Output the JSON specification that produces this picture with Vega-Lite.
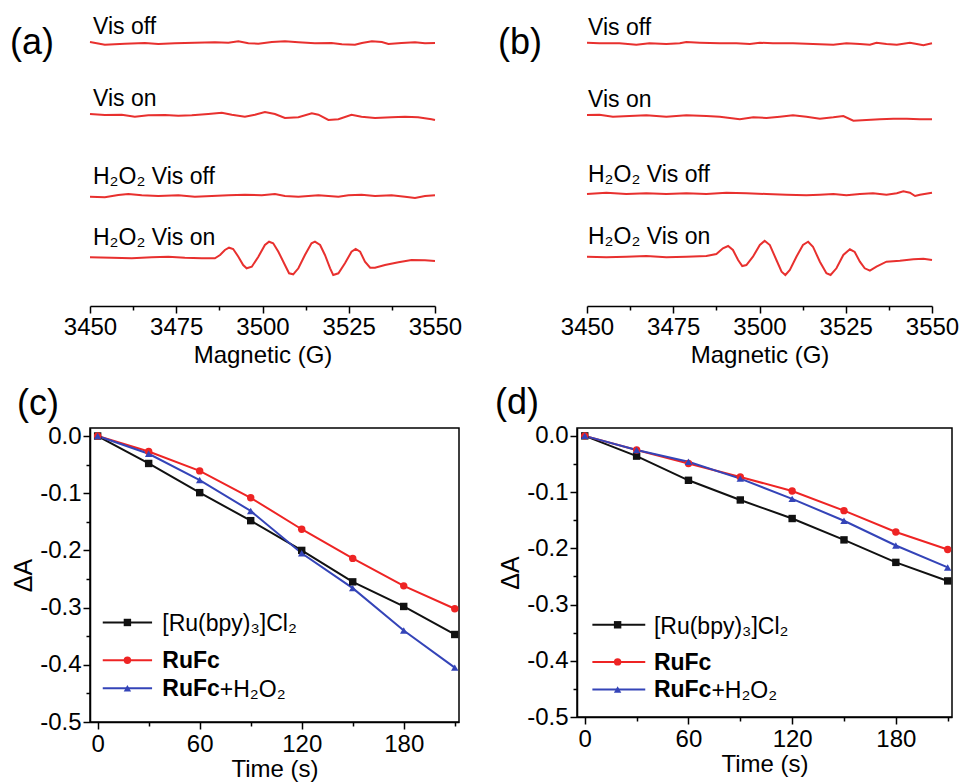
{
  "$schema": "https://vega.github.io/schema/vega-lite/v6.json",
  "autosize": {"type": "none"},
  "padding": {"left": 90, "top": 32, "right": 869, "bottom": 751},
  "background": "white",
  "config": {
    "font": "Liberation Sans",
    "view": {"stroke": null},
    "axis": {"grid": false, "labelFlush": false, "domainColor": "#000", "domainWidth": 1.5, "tickColor": "#000", "tickWidth": 1.5, "labelColor": "#000", "titleColor": "#000", "labelFont": "Liberation Sans", "titleFont": "Liberation Sans", "labelFontSize": 24, "titleFontSize": 24, "titleFontWeight": "normal"},
    "title": {"font": "Liberation Sans", "fontSize": 36, "fontWeight": "normal", "color": "#000", "anchor": "start", "frame": "group"},
    "text": {"font": "Liberation Sans", "color": "#000"}
  },
  "datasets": {
    "esr_a": [
      {"trace": "Vis off", "G": 3450, "v": 266}, {"trace": "Vis off", "G": 3454.3, "v": 263.3}, {"trace": "Vis off", "G": 3460.1, "v": 264.3}, {"trace": "Vis off", "G": 3465.9, "v": 265}, {"trace": "Vis off", "G": 3469.8, "v": 264}, {"trace": "Vis off", "G": 3474.6, "v": 264.7}, {"trace": "Vis off", "G": 3480.4, "v": 265.3}, {"trace": "Vis off", "G": 3486.2, "v": 265.7}, {"trace": "Vis off", "G": 3490.1, "v": 265.3}, {"trace": "Vis off", "G": 3493, "v": 266.7}, {"trace": "Vis off", "G": 3495.9, "v": 264.7}, {"trace": "Vis off", "G": 3498.8, "v": 264.3}, {"trace": "Vis off", "G": 3502.7, "v": 266}, {"trace": "Vis off", "G": 3506.5, "v": 266.7}, {"trace": "Vis off", "G": 3510.4, "v": 265.7}, {"trace": "Vis off", "G": 3515.2, "v": 264.7}, {"trace": "Vis off", "G": 3520, "v": 265}, {"trace": "Vis off", "G": 3523, "v": 263.7}, {"trace": "Vis off", "G": 3526.8, "v": 263.3}, {"trace": "Vis off", "G": 3528.8, "v": 265}, {"trace": "Vis off", "G": 3531.7, "v": 266.7}, {"trace": "Vis off", "G": 3534.6, "v": 266}, {"trace": "Vis off", "G": 3536.5, "v": 264}, {"trace": "Vis off", "G": 3540.3, "v": 265}, {"trace": "Vis off", "G": 3544.2, "v": 265.7}, {"trace": "Vis off", "G": 3547.1, "v": 264.7}, {"trace": "Vis off", "G": 3550, "v": 265},
      {"trace": "Vis on", "G": 3450, "v": 194}, {"trace": "Vis on", "G": 3454.3, "v": 193}, {"trace": "Vis on", "G": 3459.2, "v": 193.3}, {"trace": "Vis on", "G": 3463, "v": 191.3}, {"trace": "Vis on", "G": 3466.9, "v": 192.7}, {"trace": "Vis on", "G": 3471.7, "v": 193}, {"trace": "Vis on", "G": 3475.6, "v": 192.3}, {"trace": "Vis on", "G": 3479.5, "v": 192.7}, {"trace": "Vis on", "G": 3484.3, "v": 194}, {"trace": "Vis on", "G": 3488.2, "v": 195.3}, {"trace": "Vis on", "G": 3491.1, "v": 193.3}, {"trace": "Vis on", "G": 3494.9, "v": 191.3}, {"trace": "Vis on", "G": 3497.8, "v": 193.3}, {"trace": "Vis on", "G": 3500.7, "v": 196}, {"trace": "Vis on", "G": 3503.6, "v": 194}, {"trace": "Vis on", "G": 3506.5, "v": 190}, {"trace": "Vis on", "G": 3510.4, "v": 190.7}, {"trace": "Vis on", "G": 3514.3, "v": 194.7}, {"trace": "Vis on", "G": 3516.2, "v": 193.3}, {"trace": "Vis on", "G": 3519.1, "v": 188}, {"trace": "Vis on", "G": 3522, "v": 188.7}, {"trace": "Vis on", "G": 3525.8, "v": 193.3}, {"trace": "Vis on", "G": 3528.7, "v": 191.3}, {"trace": "Vis on", "G": 3532.6, "v": 190}, {"trace": "Vis on", "G": 3537.4, "v": 190.7}, {"trace": "Vis on", "G": 3541.3, "v": 191.3}, {"trace": "Vis on", "G": 3545.1, "v": 190.7}, {"trace": "Vis on", "G": 3549, "v": 188.7}, {"trace": "Vis on", "G": 3550, "v": 188},
      {"trace": "H₂O₂ Vis off", "G": 3450, "v": 111.3}, {"trace": "H₂O₂ Vis off", "G": 3454.3, "v": 110.7}, {"trace": "H₂O₂ Vis off", "G": 3458.2, "v": 113}, {"trace": "H₂O₂ Vis off", "G": 3461.1, "v": 114}, {"trace": "H₂O₂ Vis off", "G": 3465, "v": 112.7}, {"trace": "H₂O₂ Vis off", "G": 3469.8, "v": 112}, {"trace": "H₂O₂ Vis off", "G": 3475.6, "v": 112.7}, {"trace": "H₂O₂ Vis off", "G": 3480.4, "v": 111.3}, {"trace": "H₂O₂ Vis off", "G": 3485.3, "v": 112}, {"trace": "H₂O₂ Vis off", "G": 3490.1, "v": 112.7}, {"trace": "H₂O₂ Vis off", "G": 3494.9, "v": 113.3}, {"trace": "H₂O₂ Vis off", "G": 3499.8, "v": 112.7}, {"trace": "H₂O₂ Vis off", "G": 3503.6, "v": 114}, {"trace": "H₂O₂ Vis off", "G": 3506.5, "v": 112}, {"trace": "H₂O₂ Vis off", "G": 3510.4, "v": 111.3}, {"trace": "H₂O₂ Vis off", "G": 3516.2, "v": 112.7}, {"trace": "H₂O₂ Vis off", "G": 3522, "v": 111.3}, {"trace": "H₂O₂ Vis off", "G": 3524.9, "v": 112.7}, {"trace": "H₂O₂ Vis off", "G": 3528.7, "v": 113.3}, {"trace": "H₂O₂ Vis off", "G": 3532.6, "v": 112}, {"trace": "H₂O₂ Vis off", "G": 3537.4, "v": 112.7}, {"trace": "H₂O₂ Vis off", "G": 3541.3, "v": 111.3}, {"trace": "H₂O₂ Vis off", "G": 3544.2, "v": 110}, {"trace": "H₂O₂ Vis off", "G": 3547.1, "v": 112}, {"trace": "H₂O₂ Vis off", "G": 3550, "v": 112.7},
      {"trace": "H₂O₂ Vis on", "G": 3450, "v": 50.7}, {"trace": "H₂O₂ Vis on", "G": 3456.3, "v": 50.3}, {"trace": "H₂O₂ Vis on", "G": 3462.1, "v": 49.7}, {"trace": "H₂O₂ Vis on", "G": 3467.9, "v": 50.7}, {"trace": "H₂O₂ Vis on", "G": 3472.7, "v": 51.3}, {"trace": "H₂O₂ Vis on", "G": 3477.5, "v": 50.3}, {"trace": "H₂O₂ Vis on", "G": 3482.4, "v": 49.7}, {"trace": "H₂O₂ Vis on", "G": 3486.2, "v": 49.7}, {"trace": "H₂O₂ Vis on", "G": 3487.7, "v": 53}, {"trace": "H₂O₂ Vis on", "G": 3489.1, "v": 58}, {"trace": "H₂O₂ Vis on", "G": 3490.3, "v": 60.3}, {"trace": "H₂O₂ Vis on", "G": 3491.5, "v": 59}, {"trace": "H₂O₂ Vis on", "G": 3493, "v": 51.3}, {"trace": "H₂O₂ Vis on", "G": 3494.4, "v": 43}, {"trace": "H₂O₂ Vis on", "G": 3495.4, "v": 39.7}, {"trace": "H₂O₂ Vis on", "G": 3496.9, "v": 41.3}, {"trace": "H₂O₂ Vis on", "G": 3498.8, "v": 51.3}, {"trace": "H₂O₂ Vis on", "G": 3500.7, "v": 63}, {"trace": "H₂O₂ Vis on", "G": 3501.9, "v": 66.3}, {"trace": "H₂O₂ Vis on", "G": 3503.1, "v": 64.7}, {"trace": "H₂O₂ Vis on", "G": 3504.6, "v": 56.3}, {"trace": "H₂O₂ Vis on", "G": 3506.5, "v": 43}, {"trace": "H₂O₂ Vis on", "G": 3507.7, "v": 34.7}, {"trace": "H₂O₂ Vis on", "G": 3508.9, "v": 33.7}, {"trace": "H₂O₂ Vis on", "G": 3510.4, "v": 39.7}, {"trace": "H₂O₂ Vis on", "G": 3512.3, "v": 53}, {"trace": "H₂O₂ Vis on", "G": 3514.2, "v": 64.7}, {"trace": "H₂O₂ Vis on", "G": 3515.2, "v": 66.3}, {"trace": "H₂O₂ Vis on", "G": 3516.7, "v": 63}, {"trace": "H₂O₂ Vis on", "G": 3518.1, "v": 53}, {"trace": "H₂O₂ Vis on", "G": 3519.6, "v": 39.7}, {"trace": "H₂O₂ Vis on", "G": 3520.5, "v": 33}, {"trace": "H₂O₂ Vis on", "G": 3522, "v": 34.7}, {"trace": "H₂O₂ Vis on", "G": 3523.9, "v": 44.7}, {"trace": "H₂O₂ Vis on", "G": 3525.8, "v": 56.3}, {"trace": "H₂O₂ Vis on", "G": 3527, "v": 59}, {"trace": "H₂O₂ Vis on", "G": 3528.3, "v": 56.3}, {"trace": "H₂O₂ Vis on", "G": 3529.7, "v": 46.3}, {"trace": "H₂O₂ Vis on", "G": 3531.2, "v": 40.3}, {"trace": "H₂O₂ Vis on", "G": 3532.6, "v": 40.3}, {"trace": "H₂O₂ Vis on", "G": 3535.5, "v": 43}, {"trace": "H₂O₂ Vis on", "G": 3539.4, "v": 45.7}, {"trace": "H₂O₂ Vis on", "G": 3543.2, "v": 48}, {"trace": "H₂O₂ Vis on", "G": 3547.1, "v": 47.7}, {"trace": "H₂O₂ Vis on", "G": 3550, "v": 47}
    ],
    "esr_b": [
      {"trace": "Vis off", "G": 3450, "v": 265.3}, {"trace": "Vis off", "G": 3453.6, "v": 264.7}, {"trace": "Vis off", "G": 3459.4, "v": 264.7}, {"trace": "Vis off", "G": 3464.3, "v": 263.3}, {"trace": "Vis off", "G": 3468.1, "v": 264.7}, {"trace": "Vis off", "G": 3473, "v": 264}, {"trace": "Vis off", "G": 3476.9, "v": 264.7}, {"trace": "Vis off", "G": 3478.8, "v": 266}, {"trace": "Vis off", "G": 3482.7, "v": 265.3}, {"trace": "Vis off", "G": 3488.5, "v": 264.7}, {"trace": "Vis off", "G": 3493.3, "v": 264.7}, {"trace": "Vis off", "G": 3497.2, "v": 264}, {"trace": "Vis off", "G": 3500.1, "v": 265.3}, {"trace": "Vis off", "G": 3503.9, "v": 264.7}, {"trace": "Vis off", "G": 3509.7, "v": 264.7}, {"trace": "Vis off", "G": 3515.5, "v": 264}, {"trace": "Vis off", "G": 3521.4, "v": 263.3}, {"trace": "Vis off", "G": 3525.2, "v": 264.7}, {"trace": "Vis off", "G": 3529.1, "v": 264}, {"trace": "Vis off", "G": 3532, "v": 263.3}, {"trace": "Vis off", "G": 3533.9, "v": 265.3}, {"trace": "Vis off", "G": 3536.8, "v": 264}, {"trace": "Vis off", "G": 3539.8, "v": 263.3}, {"trace": "Vis off", "G": 3543.6, "v": 265.3}, {"trace": "Vis off", "G": 3545.6, "v": 264}, {"trace": "Vis off", "G": 3547.5, "v": 262.7}, {"trace": "Vis off", "G": 3550, "v": 264.7},
      {"trace": "Vis on", "G": 3450, "v": 193}, {"trace": "Vis on", "G": 3453.6, "v": 193.3}, {"trace": "Vis on", "G": 3457.5, "v": 191.3}, {"trace": "Vis on", "G": 3462.3, "v": 192}, {"trace": "Vis on", "G": 3467.2, "v": 192.7}, {"trace": "Vis on", "G": 3473, "v": 191.3}, {"trace": "Vis on", "G": 3478.8, "v": 192.7}, {"trace": "Vis on", "G": 3484.6, "v": 192}, {"trace": "Vis on", "G": 3488.5, "v": 191.3}, {"trace": "Vis on", "G": 3494.3, "v": 188.7}, {"trace": "Vis on", "G": 3498.2, "v": 190.7}, {"trace": "Vis on", "G": 3502, "v": 190}, {"trace": "Vis on", "G": 3505.9, "v": 191.3}, {"trace": "Vis on", "G": 3509.7, "v": 192.7}, {"trace": "Vis on", "G": 3513.6, "v": 191.3}, {"trace": "Vis on", "G": 3517.5, "v": 189.3}, {"trace": "Vis on", "G": 3521.4, "v": 190.7}, {"trace": "Vis on", "G": 3524.3, "v": 192}, {"trace": "Vis on", "G": 3527.2, "v": 187.3}, {"trace": "Vis on", "G": 3531, "v": 188}, {"trace": "Vis on", "G": 3534.9, "v": 188.7}, {"trace": "Vis on", "G": 3538.8, "v": 189.3}, {"trace": "Vis on", "G": 3542.7, "v": 189.3}, {"trace": "Vis on", "G": 3546.5, "v": 188.7}, {"trace": "Vis on", "G": 3550, "v": 188.7},
      {"trace": "H₂O₂ Vis off", "G": 3450, "v": 114}, {"trace": "H₂O₂ Vis off", "G": 3455.6, "v": 115.3}, {"trace": "H₂O₂ Vis off", "G": 3461.4, "v": 114}, {"trace": "H₂O₂ Vis off", "G": 3467.2, "v": 114.7}, {"trace": "H₂O₂ Vis off", "G": 3473, "v": 114}, {"trace": "H₂O₂ Vis off", "G": 3478.8, "v": 114.7}, {"trace": "H₂O₂ Vis off", "G": 3484.6, "v": 114}, {"trace": "H₂O₂ Vis off", "G": 3490.4, "v": 115.3}, {"trace": "H₂O₂ Vis off", "G": 3496.2, "v": 114.7}, {"trace": "H₂O₂ Vis off", "G": 3502, "v": 114}, {"trace": "H₂O₂ Vis off", "G": 3507.8, "v": 113.3}, {"trace": "H₂O₂ Vis off", "G": 3513.6, "v": 112.7}, {"trace": "H₂O₂ Vis off", "G": 3517.5, "v": 113.3}, {"trace": "H₂O₂ Vis off", "G": 3521.4, "v": 114}, {"trace": "H₂O₂ Vis off", "G": 3525.2, "v": 112.7}, {"trace": "H₂O₂ Vis off", "G": 3529.1, "v": 114}, {"trace": "H₂O₂ Vis off", "G": 3532.9, "v": 114.7}, {"trace": "H₂O₂ Vis off", "G": 3536.8, "v": 113.3}, {"trace": "H₂O₂ Vis off", "G": 3539.8, "v": 114.7}, {"trace": "H₂O₂ Vis off", "G": 3541.7, "v": 116.7}, {"trace": "H₂O₂ Vis off", "G": 3543.6, "v": 115.3}, {"trace": "H₂O₂ Vis off", "G": 3545.1, "v": 112}, {"trace": "H₂O₂ Vis off", "G": 3546.5, "v": 113.3}, {"trace": "H₂O₂ Vis off", "G": 3550, "v": 115.3},
      {"trace": "H₂O₂ Vis on", "G": 3450, "v": 51.3}, {"trace": "H₂O₂ Vis on", "G": 3455.6, "v": 50.7}, {"trace": "H₂O₂ Vis on", "G": 3461.4, "v": 51.3}, {"trace": "H₂O₂ Vis on", "G": 3467.2, "v": 52}, {"trace": "H₂O₂ Vis on", "G": 3473, "v": 50.7}, {"trace": "H₂O₂ Vis on", "G": 3478.8, "v": 51.3}, {"trace": "H₂O₂ Vis on", "G": 3484.6, "v": 52}, {"trace": "H₂O₂ Vis on", "G": 3487.5, "v": 54}, {"trace": "H₂O₂ Vis on", "G": 3489.4, "v": 59.7}, {"trace": "H₂O₂ Vis on", "G": 3490.9, "v": 62}, {"trace": "H₂O₂ Vis on", "G": 3492.3, "v": 58}, {"trace": "H₂O₂ Vis on", "G": 3493.8, "v": 48}, {"trace": "H₂O₂ Vis on", "G": 3495, "v": 42}, {"trace": "H₂O₂ Vis on", "G": 3496.2, "v": 43}, {"trace": "H₂O₂ Vis on", "G": 3498.1, "v": 51.3}, {"trace": "H₂O₂ Vis on", "G": 3500.1, "v": 63}, {"trace": "H₂O₂ Vis on", "G": 3501.5, "v": 67.3}, {"trace": "H₂O₂ Vis on", "G": 3503, "v": 63}, {"trace": "H₂O₂ Vis on", "G": 3504.9, "v": 48}, {"trace": "H₂O₂ Vis on", "G": 3506.4, "v": 36.3}, {"trace": "H₂O₂ Vis on", "G": 3507.5, "v": 33}, {"trace": "H₂O₂ Vis on", "G": 3508.8, "v": 38}, {"trace": "H₂O₂ Vis on", "G": 3510.7, "v": 51.3}, {"trace": "H₂O₂ Vis on", "G": 3512.6, "v": 63}, {"trace": "H₂O₂ Vis on", "G": 3514.1, "v": 66.3}, {"trace": "H₂O₂ Vis on", "G": 3515.5, "v": 61.3}, {"trace": "H₂O₂ Vis on", "G": 3517.5, "v": 46.3}, {"trace": "H₂O₂ Vis on", "G": 3519.4, "v": 34.7}, {"trace": "H₂O₂ Vis on", "G": 3520.6, "v": 33}, {"trace": "H₂O₂ Vis on", "G": 3522.3, "v": 39.7}, {"trace": "H₂O₂ Vis on", "G": 3524.3, "v": 53}, {"trace": "H₂O₂ Vis on", "G": 3526.2, "v": 58.7}, {"trace": "H₂O₂ Vis on", "G": 3527.6, "v": 56}, {"trace": "H₂O₂ Vis on", "G": 3529.1, "v": 46.3}, {"trace": "H₂O₂ Vis on", "G": 3530.5, "v": 39.7}, {"trace": "H₂O₂ Vis on", "G": 3532, "v": 37.3}, {"trace": "H₂O₂ Vis on", "G": 3533.9, "v": 41.3}, {"trace": "H₂O₂ Vis on", "G": 3536.8, "v": 46.3}, {"trace": "H₂O₂ Vis on", "G": 3540.7, "v": 47.3}, {"trace": "H₂O₂ Vis on", "G": 3544.6, "v": 48.7}, {"trace": "H₂O₂ Vis on", "G": 3547.5, "v": 49.3}, {"trace": "H₂O₂ Vis on", "G": 3550, "v": 48}
    ],
    "kin": [
      {"panel": "c", "series": "Ru", "t": 0, "dA": 0}, {"panel": "c", "series": "Ru", "t": 30, "dA": -0.048}, {"panel": "c", "series": "Ru", "t": 60, "dA": -0.099}, {"panel": "c", "series": "Ru", "t": 90, "dA": -0.148}, {"panel": "c", "series": "Ru", "t": 120, "dA": -0.2}, {"panel": "c", "series": "Ru", "t": 150, "dA": -0.255}, {"panel": "c", "series": "Ru", "t": 180, "dA": -0.298}, {"panel": "c", "series": "Ru", "t": 210, "dA": -0.347},
      {"panel": "c", "series": "RuFc", "t": 0, "dA": 0}, {"panel": "c", "series": "RuFc", "t": 30, "dA": -0.027}, {"panel": "c", "series": "RuFc", "t": 60, "dA": -0.061}, {"panel": "c", "series": "RuFc", "t": 90, "dA": -0.108}, {"panel": "c", "series": "RuFc", "t": 120, "dA": -0.163}, {"panel": "c", "series": "RuFc", "t": 150, "dA": -0.214}, {"panel": "c", "series": "RuFc", "t": 180, "dA": -0.262}, {"panel": "c", "series": "RuFc", "t": 210, "dA": -0.302},
      {"panel": "c", "series": "RuFcH", "t": 0, "dA": 0}, {"panel": "c", "series": "RuFcH", "t": 30, "dA": -0.031}, {"panel": "c", "series": "RuFcH", "t": 60, "dA": -0.077}, {"panel": "c", "series": "RuFcH", "t": 90, "dA": -0.131}, {"panel": "c", "series": "RuFcH", "t": 120, "dA": -0.205}, {"panel": "c", "series": "RuFcH", "t": 150, "dA": -0.266}, {"panel": "c", "series": "RuFcH", "t": 180, "dA": -0.34}, {"panel": "c", "series": "RuFcH", "t": 210, "dA": -0.405},
      {"panel": "d", "series": "Ru", "t": 0, "dA": 0}, {"panel": "d", "series": "Ru", "t": 30, "dA": -0.036}, {"panel": "d", "series": "Ru", "t": 60, "dA": -0.079}, {"panel": "d", "series": "Ru", "t": 90, "dA": -0.114}, {"panel": "d", "series": "Ru", "t": 120, "dA": -0.147}, {"panel": "d", "series": "Ru", "t": 150, "dA": -0.185}, {"panel": "d", "series": "Ru", "t": 180, "dA": -0.225}, {"panel": "d", "series": "Ru", "t": 210, "dA": -0.258},
      {"panel": "d", "series": "RuFc", "t": 0, "dA": 0}, {"panel": "d", "series": "RuFc", "t": 30, "dA": -0.025}, {"panel": "d", "series": "RuFc", "t": 60, "dA": -0.049}, {"panel": "d", "series": "RuFc", "t": 90, "dA": -0.073}, {"panel": "d", "series": "RuFc", "t": 120, "dA": -0.098}, {"panel": "d", "series": "RuFc", "t": 150, "dA": -0.133}, {"panel": "d", "series": "RuFc", "t": 180, "dA": -0.171}, {"panel": "d", "series": "RuFc", "t": 210, "dA": -0.202},
      {"panel": "d", "series": "RuFcH", "t": 0, "dA": 0}, {"panel": "d", "series": "RuFcH", "t": 30, "dA": -0.025}, {"panel": "d", "series": "RuFcH", "t": 60, "dA": -0.046}, {"panel": "d", "series": "RuFcH", "t": 90, "dA": -0.076}, {"panel": "d", "series": "RuFcH", "t": 120, "dA": -0.112}, {"panel": "d", "series": "RuFcH", "t": 150, "dA": -0.151}, {"panel": "d", "series": "RuFcH", "t": 180, "dA": -0.195}, {"panel": "d", "series": "RuFcH", "t": 210, "dA": -0.234}
    ],
    "legend": [
      {"panel": "c", "series": "Ru", "ly": -0.326}, {"panel": "c", "series": "RuFc", "ly": -0.392}, {"panel": "c", "series": "RuFcH", "ly": -0.441},
      {"panel": "d", "series": "Ru", "ly": -0.336}, {"panel": "d", "series": "RuFc", "ly": -0.402}, {"panel": "d", "series": "RuFcH", "ly": -0.451}
    ]
  },
  "bounds": "flush",
  "spacing": 396,
  "vconcat": [
    {
      "bounds": "flush",
      "spacing": 152,
      "hconcat": [
        {
          "width": 345, "height": 274,
          "title": {"text": "(a)", "dx": -80, "dy": 50, "offset": 4},
          "data": {"name": "esr_a"},
          "resolve": {"axis": {"x": "independent"}},
          "layer": [
            {"mark": {"type": "line", "color": "#e8302e", "strokeWidth": 2},
             "encoding": {
               "x": {"field": "G", "type": "quantitative", "scale": {"domain": [3450, 3550], "nice": false, "zero": false}, "axis": {"orient": "bottom", "values": [3450, 3475, 3500, 3525, 3550], "format": "d", "title": "Magnetic (G)", "tickSize": 7, "labelPadding": 2, "titlePadding": 4, "labelOverlap": false}},
               "y": {"field": "v", "type": "quantitative", "scale": {"domain": [2, 276], "nice": false, "zero": false}, "axis": null},
               "detail": {"field": "trace"}
             }},
            {"transform": [{"filter": "datum.G == 3450 && indexof(datum.trace, 'V') == 0"}],
             "mark": {"type": "text", "align": "left", "baseline": "alphabetic", "fontSize": 23, "dx": 3, "dy": -8},
             "encoding": {
               "x": {"field": "G", "type": "quantitative", "scale": {"domain": [3450, 3550], "nice": false, "zero": false}, "axis": {"orient": "bottom", "values": [3462.5, 3487.5, 3512.5, 3537.5], "tickSize": 4, "labels": false, "domain": false, "title": null}},
               "y": {"field": "v", "type": "quantitative", "scale": {"domain": [2, 276], "nice": false, "zero": false}, "axis": null},
               "text": {"field": "trace"}
             }},
            {"transform": [{"filter": "datum.G == 3450 && indexof(datum.trace, 'H') == 0"}],
             "mark": {"type": "text", "align": "left", "baseline": "alphabetic", "fontSize": 23, "dx": 3, "dy": -12.5},
             "encoding": {
               "x": {"field": "G", "type": "quantitative", "scale": {"domain": [3450, 3550], "nice": false, "zero": false}, "axis": null},
               "y": {"field": "v", "type": "quantitative", "scale": {"domain": [2, 276], "nice": false, "zero": false}, "axis": null},
               "text": {"field": "trace"}
             }}
          ]
        },
        {
          "width": 345, "height": 274,
          "title": {"text": "(b)", "dx": -89, "dy": 49, "offset": 4},
          "data": {"name": "esr_b"},
          "resolve": {"axis": {"x": "independent"}},
          "layer": [
            {"mark": {"type": "line", "color": "#e8302e", "strokeWidth": 2},
             "encoding": {
               "x": {"field": "G", "type": "quantitative", "scale": {"domain": [3450, 3550], "nice": false, "zero": false}, "axis": {"orient": "bottom", "values": [3450, 3475, 3500, 3525, 3550], "format": "d", "title": "Magnetic (G)", "tickSize": 7, "labelPadding": 2, "titlePadding": 4, "labelOverlap": false}},
               "y": {"field": "v", "type": "quantitative", "scale": {"domain": [2, 276], "nice": false, "zero": false}, "axis": null},
               "detail": {"field": "trace"}
             }},
            {"transform": [{"filter": "datum.G == 3450 && indexof(datum.trace, 'V') == 0"}],
             "mark": {"type": "text", "align": "left", "baseline": "alphabetic", "fontSize": 23, "dx": 1, "dy": -8},
             "encoding": {
               "x": {"field": "G", "type": "quantitative", "scale": {"domain": [3450, 3550], "nice": false, "zero": false}, "axis": {"orient": "bottom", "values": [3462.5, 3487.5, 3512.5, 3537.5], "tickSize": 4, "labels": false, "domain": false, "title": null}},
               "y": {"field": "v", "type": "quantitative", "scale": {"domain": [2, 276], "nice": false, "zero": false}, "axis": null},
               "text": {"field": "trace"}
             }},
            {"transform": [{"filter": "datum.G == 3450 && indexof(datum.trace, 'H') == 0"}],
             "mark": {"type": "text", "align": "left", "baseline": "alphabetic", "fontSize": 23, "dx": 1, "dy": -12.5},
             "encoding": {
               "x": {"field": "G", "type": "quantitative", "scale": {"domain": [3450, 3550], "nice": false, "zero": false}, "axis": null},
               "y": {"field": "v", "type": "quantitative", "scale": {"domain": [2, 276], "nice": false, "zero": false}, "axis": null},
               "text": {"field": "trace"}
             }}
          ]
        }
      ]
    },
    {
      "bounds": "flush",
      "spacing": 118,
      "hconcat": [
        {
          "width": 369, "height": 294,
          "view": {"stroke": "#000", "strokeWidth": 1.5},
          "title": {"text": "(c)", "dx": -73, "offset": 1},
          "resolve": {"axis": {"x": "independent", "y": "independent"}},
          "layer": [
            {"data": {"name": "kin"}, "transform": [{"filter": "datum.panel == 'c'"}],
             "mark": {"type": "line", "strokeWidth": 2},
             "encoding": {
               "x": {"field": "t", "type": "quantitative", "scale": {"domain": [-4.5, 212.5], "nice": false, "zero": false}, "axis": {"orient": "bottom", "values": [0, 60, 120, 180], "title": "Time (s)", "tickSize": 7, "labelPadding": 3, "titlePadding": 1}},
               "y": {"field": "dA", "type": "quantitative", "scale": {"domain": [-0.5, 0.014], "nice": false, "zero": false}, "axis": {"orient": "left", "values": [0, -0.1, -0.2, -0.3, -0.4, -0.5], "labelExpr": "replace(format(datum.value, '.1f'), '−', '-')", "title": "ΔA", "titleFontSize": 25, "tickSize": 7, "labelPadding": 2, "titlePadding": 3}},
               "color": {"field": "series", "type": "nominal", "scale": {"domain": ["Ru", "RuFc", "RuFcH"], "range": ["#111111", "#ee2424", "#3444b8"]}, "legend": null}
             }},
            {"data": {"name": "kin"}, "transform": [{"filter": "datum.panel == 'c'"}],
             "mark": {"type": "point", "filled": true, "opacity": 1, "size": 55},
             "encoding": {
               "x": {"field": "t", "type": "quantitative", "scale": {"domain": [-4.5, 212.5], "nice": false, "zero": false}, "axis": {"orient": "bottom", "values": [30, 90, 150, 210], "tickSize": 4, "labels": false, "domain": false, "title": null}},
               "y": {"field": "dA", "type": "quantitative", "scale": {"domain": [-0.5, 0.014], "nice": false, "zero": false}, "axis": {"orient": "left", "values": [-0.05, -0.15, -0.25, -0.35, -0.45], "tickSize": 4, "labels": false, "domain": false, "title": null}},
               "color": {"field": "series", "type": "nominal", "scale": {"domain": ["Ru", "RuFc", "RuFcH"], "range": ["#111111", "#ee2424", "#3444b8"]}, "legend": null},
               "shape": {"field": "series", "type": "nominal", "scale": {"domain": ["Ru", "RuFc", "RuFcH"], "range": ["square", "circle", "triangle-up"]}, "legend": null}
             }},
            {"data": {"name": "legend"}, "transform": [{"filter": "datum.panel == 'c'"}],
             "mark": {"type": "rule", "strokeWidth": 2},
             "encoding": {
               "x": {"datum": 3, "type": "quantitative", "axis": null},
               "x2": {"datum": 32},
               "y": {"field": "ly", "type": "quantitative", "axis": null},
               "color": {"field": "series", "type": "nominal", "scale": {"domain": ["Ru", "RuFc", "RuFcH"], "range": ["#111111", "#ee2424", "#3444b8"]}, "legend": null}
             }},
            {"data": {"name": "legend"}, "transform": [{"filter": "datum.panel == 'c'"}],
             "mark": {"type": "point", "filled": true, "opacity": 1, "size": 55},
             "encoding": {
               "x": {"datum": 17.5, "type": "quantitative", "axis": null},
               "y": {"field": "ly", "type": "quantitative", "axis": null},
               "color": {"field": "series", "type": "nominal", "scale": {"domain": ["Ru", "RuFc", "RuFcH"], "range": ["#111111", "#ee2424", "#3444b8"]}, "legend": null},
               "shape": {"field": "series", "type": "nominal", "scale": {"domain": ["Ru", "RuFc", "RuFcH"], "range": ["square", "circle", "triangle-up"]}, "legend": null}
             }},
            {"data": {"name": "legend"}, "transform": [{"filter": "datum.panel == 'c' && datum.series == 'Ru'"}],
             "mark": {"type": "text", "align": "left", "baseline": "middle", "fontSize": 23, "text": "[Ru(bpy)₃]Cl₂", "dy": 2},
             "encoding": {
               "x": {"datum": 38, "type": "quantitative", "axis": null},
               "y": {"field": "ly", "type": "quantitative", "axis": null}
             }},
            {"data": {"name": "legend"}, "transform": [{"filter": "datum.panel == 'c' && datum.series != 'Ru'"}],
             "mark": {"type": "text", "align": "left", "baseline": "middle", "fontSize": 23, "fontWeight": "bold", "text": "RuFc", "dy": 1},
             "encoding": {
               "x": {"datum": 38, "type": "quantitative", "axis": null},
               "y": {"field": "ly", "type": "quantitative", "axis": null}
             }},
            {"data": {"name": "legend"}, "transform": [{"filter": "datum.panel == 'c' && datum.series == 'RuFcH'"}],
             "mark": {"type": "text", "align": "left", "baseline": "middle", "fontSize": 23, "text": "+H₂O₂", "dx": 57.5, "dy": 2},
             "encoding": {
               "x": {"datum": 38, "type": "quantitative", "axis": null},
               "y": {"field": "ly", "type": "quantitative", "axis": null}
             }}
          ]
        },
        {
          "width": 375, "height": 289,
          "view": {"stroke": "#000", "strokeWidth": 1.5},
          "title": {"text": "(d)", "dx": -82, "offset": 2},
          "resolve": {"axis": {"x": "independent", "y": "independent"}},
          "layer": [
            {"data": {"name": "kin"}, "transform": [{"filter": "datum.panel == 'd'"}],
             "mark": {"type": "line", "strokeWidth": 2},
             "encoding": {
               "x": {"field": "t", "type": "quantitative", "scale": {"domain": [-4.5, 212.5], "nice": false, "zero": false}, "axis": {"orient": "bottom", "values": [0, 60, 120, 180], "title": "Time (s)", "tickSize": 7, "labelPadding": 3, "titlePadding": 1}},
               "y": {"field": "dA", "type": "quantitative", "scale": {"domain": [-0.5, 0.014], "nice": false, "zero": false}, "axis": {"orient": "left", "values": [0, -0.1, -0.2, -0.3, -0.4, -0.5], "labelExpr": "replace(format(datum.value, '.1f'), '−', '-')", "title": "ΔA", "titleFontSize": 25, "tickSize": 7, "labelPadding": 2, "titlePadding": 3}},
               "color": {"field": "series", "type": "nominal", "scale": {"domain": ["Ru", "RuFc", "RuFcH"], "range": ["#111111", "#ee2424", "#3444b8"]}, "legend": null}
             }},
            {"data": {"name": "kin"}, "transform": [{"filter": "datum.panel == 'd'"}],
             "mark": {"type": "point", "filled": true, "opacity": 1, "size": 55},
             "encoding": {
               "x": {"field": "t", "type": "quantitative", "scale": {"domain": [-4.5, 212.5], "nice": false, "zero": false}, "axis": {"orient": "bottom", "values": [30, 90, 150, 210], "tickSize": 4, "labels": false, "domain": false, "title": null}},
               "y": {"field": "dA", "type": "quantitative", "scale": {"domain": [-0.5, 0.014], "nice": false, "zero": false}, "axis": {"orient": "left", "values": [-0.05, -0.15, -0.25, -0.35, -0.45], "tickSize": 4, "labels": false, "domain": false, "title": null}},
               "color": {"field": "series", "type": "nominal", "scale": {"domain": ["Ru", "RuFc", "RuFcH"], "range": ["#111111", "#ee2424", "#3444b8"]}, "legend": null},
               "shape": {"field": "series", "type": "nominal", "scale": {"domain": ["Ru", "RuFc", "RuFcH"], "range": ["square", "circle", "triangle-up"]}, "legend": null}
             }},
            {"data": {"name": "legend"}, "transform": [{"filter": "datum.panel == 'd'"}],
             "mark": {"type": "rule", "strokeWidth": 2},
             "encoding": {
               "x": {"datum": 4.4, "type": "quantitative", "axis": null},
               "x2": {"datum": 35},
               "y": {"field": "ly", "type": "quantitative", "axis": null},
               "color": {"field": "series", "type": "nominal", "scale": {"domain": ["Ru", "RuFc", "RuFcH"], "range": ["#111111", "#ee2424", "#3444b8"]}, "legend": null}
             }},
            {"data": {"name": "legend"}, "transform": [{"filter": "datum.panel == 'd'"}],
             "mark": {"type": "point", "filled": true, "opacity": 1, "size": 55},
             "encoding": {
               "x": {"datum": 19, "type": "quantitative", "axis": null},
               "y": {"field": "ly", "type": "quantitative", "axis": null},
               "color": {"field": "series", "type": "nominal", "scale": {"domain": ["Ru", "RuFc", "RuFcH"], "range": ["#111111", "#ee2424", "#3444b8"]}, "legend": null},
               "shape": {"field": "series", "type": "nominal", "scale": {"domain": ["Ru", "RuFc", "RuFcH"], "range": ["square", "circle", "triangle-up"]}, "legend": null}
             }},
            {"data": {"name": "legend"}, "transform": [{"filter": "datum.panel == 'd' && datum.series == 'Ru'"}],
             "mark": {"type": "text", "align": "left", "baseline": "middle", "fontSize": 23, "text": "[Ru(bpy)₃]Cl₂", "dy": 2},
             "encoding": {
               "x": {"datum": 40, "type": "quantitative", "axis": null},
               "y": {"field": "ly", "type": "quantitative", "axis": null}
             }},
            {"data": {"name": "legend"}, "transform": [{"filter": "datum.panel == 'd' && datum.series != 'Ru'"}],
             "mark": {"type": "text", "align": "left", "baseline": "middle", "fontSize": 23, "fontWeight": "bold", "text": "RuFc", "dy": 1},
             "encoding": {
               "x": {"datum": 40, "type": "quantitative", "axis": null},
               "y": {"field": "ly", "type": "quantitative", "axis": null}
             }},
            {"data": {"name": "legend"}, "transform": [{"filter": "datum.panel == 'd' && datum.series == 'RuFcH'"}],
             "mark": {"type": "text", "align": "left", "baseline": "middle", "fontSize": 23, "text": "+H₂O₂", "dx": 57.5, "dy": 2},
             "encoding": {
               "x": {"datum": 40, "type": "quantitative", "axis": null},
               "y": {"field": "ly", "type": "quantitative", "axis": null}
             }}
          ]
        }
      ]
    }
  ]
}
